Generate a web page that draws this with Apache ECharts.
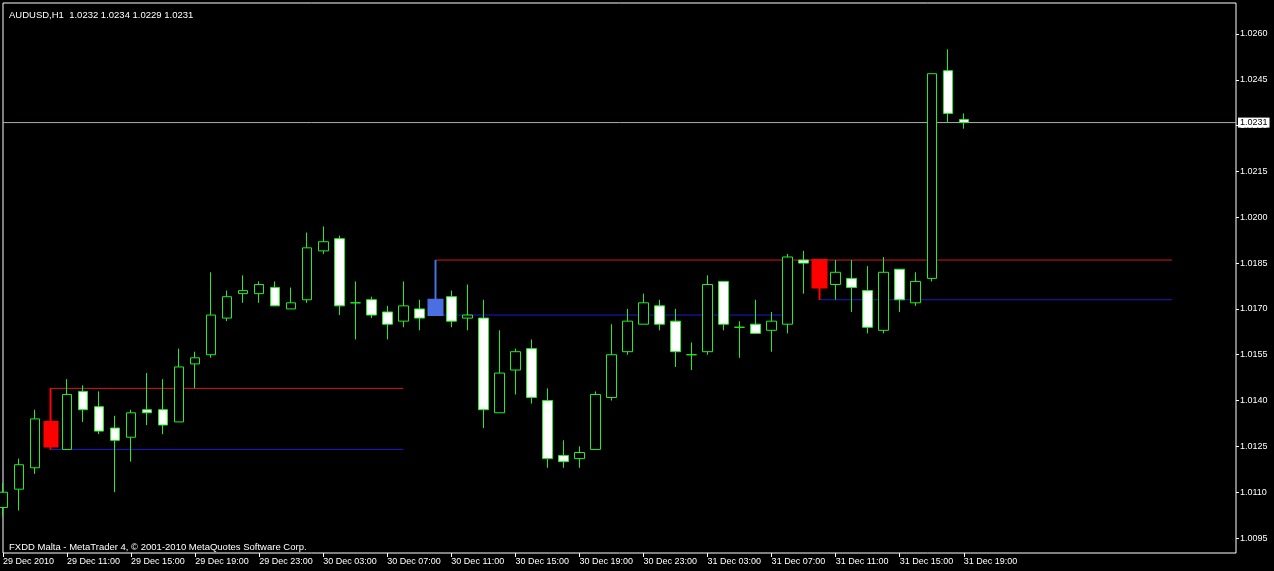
<!DOCTYPE html>
<html><head><meta charset="utf-8">
<script src="https://cdn.jsdelivr.net/npm/echarts@6/dist/echarts.min.js"></script>
<style>html,body{margin:0;padding:0;background:#000;}#c{width:1274px;height:571px;}</style>
</head><body><div id="c"></div>
<script>
const symbol = 'AUDUSD,H1';
const credit = 'FXDD Malta - MetaTrader 4, \u00a9 2001-2010 MetaQuotes Software Corp.';

// hourly bars, 29 Dec 2010 07:00 .. 31 Dec 2010 19:00
const opens  = [1.0105,1.0111,1.0118,1.0133,1.0124,1.0143,1.0138,1.0131,1.0128,1.0137,
                1.0137,1.0133,1.0152,1.0155,1.0167,1.0175,1.0175,1.0177,1.0170,1.0173,
                1.0189,1.0193,1.0172,1.0173,1.0169,1.0166,1.0170,1.0168,1.0174,1.0167,
                1.0167,1.0136,1.0150,1.0157,1.0140,1.0122,1.0121,1.0124,1.0141,1.0156,
                1.0165,1.0171,1.0166,1.0155,1.0156,1.0179,1.0164,1.0165,1.0163,1.0165,
                1.0186,1.0186,1.0178,1.0180,1.0176,1.0163,1.0183,1.0172,1.0180,1.0248,
                1.0232];
const highs  = [1.0113,1.0121,1.0137,1.0144,1.0147,1.0145,1.0143,1.0135,1.0137,1.0149,
                1.0147,1.0157,1.0156,1.0182,1.0176,1.0181,1.0179,1.0179,1.0177,1.0195,
                1.0197,1.0194,1.0179,1.0174,1.0171,1.0179,1.0173,1.0186,1.0176,1.0178,
                1.0173,1.0163,1.0157,1.0160,1.0144,1.0127,1.0125,1.0143,1.0165,1.0170,
                1.0175,1.0173,1.0170,1.0159,1.0181,1.0179,1.0166,1.0173,1.0169,1.0188,
                1.0189,1.0186,1.0186,1.0186,1.0184,1.0187,1.0183,1.0182,1.0247,1.0255,
                1.0234];
const lows   = [1.0102,1.0104,1.0116,1.0124,1.0124,1.0133,1.0129,1.0110,1.0120,1.0132,
                1.0129,1.0133,1.0144,1.0154,1.0166,1.0172,1.0172,1.0171,1.0170,1.0172,
                1.0188,1.0168,1.0160,1.0167,1.0160,1.0164,1.0163,1.0168,1.0164,1.0163,
                1.0131,1.0136,1.0142,1.0139,1.0118,1.0118,1.0118,1.0124,1.0140,1.0155,
                1.0165,1.0163,1.0151,1.0150,1.0155,1.0163,1.0154,1.0162,1.0156,1.0162,
                1.0175,1.0173,1.0173,1.0169,1.0162,1.0162,1.0169,1.0171,1.0179,1.0231,
                1.0229];
const closes = [1.0110,1.0119,1.0134,1.0125,1.0142,1.0137,1.0130,1.0127,1.0136,1.0136,
                1.0132,1.0151,1.0154,1.0168,1.0174,1.0176,1.0178,1.0171,1.0172,1.0190,
                1.0192,1.0171,1.0172,1.0168,1.0165,1.0171,1.0167,1.0173,1.0166,1.0168,
                1.0137,1.0149,1.0156,1.0141,1.0121,1.0120,1.0123,1.0142,1.0155,1.0166,
                1.0172,1.0165,1.0156,1.0155,1.0178,1.0165,1.0164,1.0162,1.0166,1.0187,
                1.0185,1.0177,1.0182,1.0177,1.0164,1.0182,1.0173,1.0179,1.0247,1.0234,
                1.0231];
const emptyBarsRight = 17;

// bars highlighted by the indicator
const redBars  = [3, 51];
const blueBars = [27];

// indicator levels: bar index from / to, price
const redLevels  = [[3, 25, 1.0144], [27, 73, 1.0186]];
const blueLevels = [[3, 25, 1.0124], [27, 49, 1.0168], [51, 73, 1.0173]];

const xTickLabels = ['29 Dec 2010','29 Dec 11:00','29 Dec 15:00','29 Dec 19:00','29 Dec 23:00',
  '30 Dec 03:00','30 Dec 07:00','30 Dec 11:00','30 Dec 15:00','30 Dec 19:00','30 Dec 23:00',
  '31 Dec 03:00','31 Dec 07:00','31 Dec 11:00','31 Dec 15:00','31 Dec 19:00'];
const yTickValues = [1.0095,1.0110,1.0125,1.0140,1.0155,1.0170,1.0185,1.0200,1.0215,1.0230,1.0245,1.0260];

const nBars = opens.length;
const nCats = nBars + emptyBarsRight;
const categories = Array.from({length: nCats}, (_, i) => String(i));
const ohlc = opens.map((o, i) => [o, closes[i], lows[i], highs[i]]);
const pick = idx => ohlc.map((v, i) => idx.includes(i) ? v : '-');
const last = nBars - 1;
const f4 = v => v.toFixed(4);
const headline = symbol + '  ' + [opens[last], highs[last], lows[last], closes[last]].map(f4).join(' ');

const LIME = '#22ee22';
const FONT = 'Liberation Sans';

const levelSeries = (levels, color) => levels.map(l => ({
  type: 'line', data: [[l[0], l[2]], [l[1], l[2]]], showSymbol: false, symbol: 'none',
  lineStyle: {color: color, width: 1}, z: 2, silent: true, animation: false
}));

const chart = echarts.init(document.getElementById('c'), null, {renderer: 'canvas'});
chart.setOption({
  backgroundColor: '#000',
  animation: false,
  title: [
    {text: headline, left: 4, top: 5, textStyle: {color: '#fff', fontSize: 9.5, fontWeight: 'normal', fontFamily: FONT}},
    {text: credit, left: 4, top: 537, textStyle: {color: '#fff', fontSize: 9.5, fontWeight: 'normal', fontFamily: FONT}}
  ],
  grid: {left: 3, right: 38, top: 3, bottom: 18, show: true, borderColor: '#fff', borderWidth: 1, backgroundColor: 'transparent'},
  xAxis: {
    type: 'category', data: categories, boundaryGap: false,
    axisLine: {show: false},
    axisTick: {show: true, length: 4, lineStyle: {color: '#fff'}, interval: (i) => i % 4 === 0 && i <= last},
    axisLabel: {show: true, color: '#fff', fontSize: 9, fontFamily: FONT, align: 'left', margin: 4,
      interval: (i) => i % 4 === 0 && i <= last,
      formatter: (v, i) => xTickLabels[Math.round(Number(v) / 4)] || ''},
    splitLine: {show: false}
  },
  yAxis: {
    type: 'value', position: 'right', min: 1.009010, max: 1.027015, scale: true,
    axisLine: {show: false},
    axisTick: {show: true, length: 3, inside: false, lineStyle: {color: '#fff'}, customValues: yTickValues},
    axisLabel: {show: true, color: '#fff', fontSize: 9, fontFamily: FONT, margin: 4, customValues: yTickValues,
      formatter: v => f4(v)},
    splitLine: {show: false}
  },
  series: [
    {
      // current bid line across the whole chart
      type: 'line', data: [[0, closes[last]], [nCats - 1, closes[last]]], z: 1, silent: true,
      showSymbol: false, symbol: 'none', clip: false,
      lineStyle: {color: '#a8b4a8', width: 1},
      endLabel: {show: true, distance: 2, formatter: () => f4(closes[last]),
        color: '#000', backgroundColor: '#fff', padding: [1, 2, 0, 2], fontSize: 9, fontFamily: FONT}
    },
    ...levelSeries(redLevels, '#d81818'),
    ...levelSeries(blueLevels, '#1a1ad0'),
    {
      type: 'candlestick', data: ohlc, barWidth: 10, z: 3,
      itemStyle: {color: '#000', color0: '#fff', borderColor: LIME, borderColor0: LIME, borderWidth: 1}
    },
    {
      type: 'candlestick', data: pick(redBars), barWidth: 14, z: 4,
      itemStyle: {color: '#ff0000', color0: '#ff0000', borderColor: '#ff0000', borderColor0: '#ff0000', borderWidth: 2}
    },
    {
      type: 'candlestick', data: pick(blueBars), barWidth: 14, z: 4,
      itemStyle: {color: '#4a6fe0', color0: '#4a6fe0', borderColor: '#4a6fe0', borderColor0: '#4a6fe0', borderWidth: 2}
    }
  ]
});
</script></body></html>
